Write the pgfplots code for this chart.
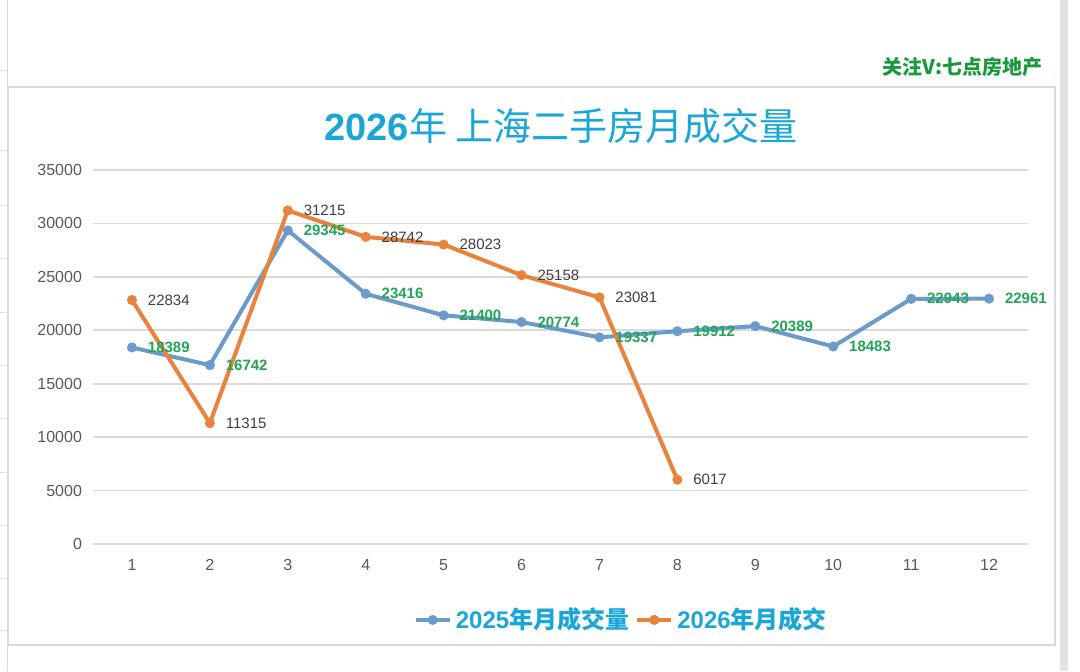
\documentclass[border=0pt]{standalone}
\usepackage{fontspec}
\setmainfont{Liberation Sans}
\newfontfamily\cjk{Noto Sans CJK SC}
\usepackage{pgfplots}
\pgfplotsset{compat=1.18}
\definecolor{c25}{HTML}{6A9BCB}
\definecolor{c26}{HTML}{E9823D}
\definecolor{tcyan}{HTML}{1AA6D7}
\definecolor{lgreen}{HTML}{22A456}
\definecolor{wgreen}{HTML}{189A3C}
\definecolor{gridc}{HTML}{DADADA}
\definecolor{tickc}{HTML}{595959}
\definecolor{labc}{HTML}{404040}
\begin{document}
\begin{tikzpicture}[x=0.5pt,y=0.5pt]
\path[use as bounding box, fill=white] (0,0) rectangle (1080,671);
% spreadsheet background bits
\fill[gray!22] (1060,0) rectangle (1068,671);
\draw[gray!30, line width=0.5pt] (7,0) -- (7,671);
\foreach \yy in {70,150,205,258,312,365,418,472,525,578,630} {\draw[gray!25, line width=0.4pt] (0,671-\yy) -- (7,671-\yy);}
% chart border
\draw[gridc, line width=0.8pt] (8,671-87) rectangle (1055,671-645);
% watermark
\node[anchor=east, inner sep=0pt, text=wgreen] at (1043,671-67) {\cjk\bfseries\fontsize{10}{12}\selectfont 关注V:七点房地产};
% title
\node[inner sep=0pt, text=tcyan] at (561,671-126) {\fontsize{19}{22}\selectfont\textbf{2026}{\cjk 年 上海二手房月成交量}};
\begin{axis}[
  at={(46.5pt,63.5pt)}, anchor=south west, scale only axis,
  width=467.5pt, height=187pt,
  xmin=0.5, xmax=12.5, ymin=0, ymax=35000,
  axis line style={draw=none},
  ytick={0,5000,...,35000}, xtick={1,...,12},
  scaled y ticks=false,
  ymajorgrids, grid style={gridc, line width=0.9pt},
  major tick length=0pt,
  /pgf/number format/assume math mode=true,
  /pgf/number format/set thousands separator={},
  tick label style={font=\fontsize{8}{9}\selectfont, text=tickc},
  xticklabel style={yshift=-4pt},
  yticklabel style={xshift=-2pt},
  clip=false,
  legend style={at={(0.566,-0.203)}, anchor=center, legend columns=2, draw=none, fill=none,
    font=\bfseries\fontsize{12}{14}\selectfont, text=tcyan,
    /tikz/every even column/.append style={column sep=1pt}},
  legend cell align=left,
  nodes near coords,
  point meta=explicit symbolic,
]
\addplot[c25, line width=2pt, mark=*, mark size=2pt, mark options={line width=1pt},
  every node near coord/.append style={anchor=west, xshift=6.5pt, inner sep=1pt, text=lgreen, font=\bfseries\fontsize{7.5}{8}\selectfont}]
  coordinates {(1,18389)[18389] (2,16742)[16742] (3,29345)[29345] (4,23416)[23416] (5,21400)[21400] (6,20774)[20774]
  (7,19337)[19337] (8,19912)[19912] (9,20389)[20389] (10,18483)[18483] (11,22943)[22943] (12,22961)[22961]};
\addlegendentry{2025{\cjk 年月成交量}}
\addplot[c26, line width=2pt, mark=*, mark size=2pt, mark options={line width=1pt},
  every node near coord/.append style={anchor=west, xshift=6.5pt, inner sep=1pt, text=labc, font=\fontsize{7.5}{8}\selectfont}]
  coordinates {(1,22834)[22834] (2,11315)[11315] (3,31215)[31215] (4,28742)[28742] (5,28023)[28023] (6,25158)[25158]
  (7,23081)[23081] (8,6017)[6017]};
\addlegendentry{2026{\cjk 年月成交}}
\end{axis}
\end{tikzpicture}
\end{document}
